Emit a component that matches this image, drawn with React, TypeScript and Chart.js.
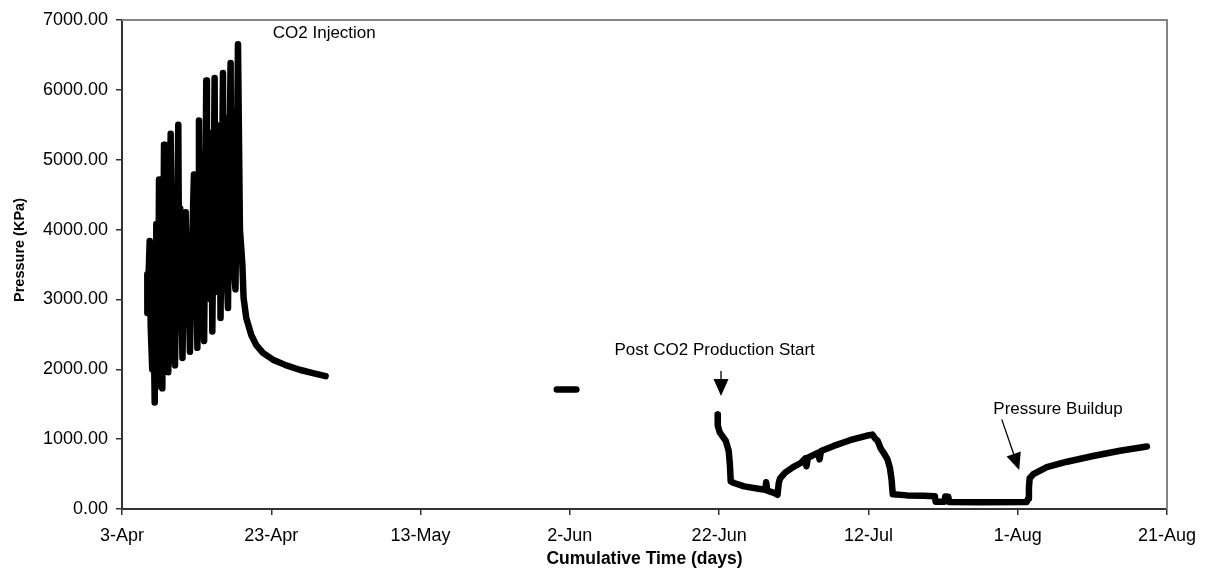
import React, { useEffect, useRef } from "react";
import { Chart, registerables } from "chart.js";

Chart.register(...registerables);

// x values are days since 3-Apr
const tickLabels = ["3-Apr", "23-Apr", "13-May", "2-Jun", "22-Jun", "12-Jul", "1-Aug", "21-Aug"];

const injectionSeries: [number, number][] = [
  [3.39, 3362], [3.4, 2806], [3.55, 3300], [3.71, 3836], [3.85, 2600], [4.05, 2000],
  [4.2, 3000], [4.38, 1524], [4.5, 2800], [4.6, 4078], [4.7, 2500], [4.8, 1760],
  [4.88, 3200], [4.96, 4717], [5.1, 2600], [5.2, 3500], [5.4, 1727], [5.5, 3000],
  [5.63, 5215], [5.75, 3000], [5.9, 3800], [6.2, 1959], [6.35, 3600], [6.52, 5370],
  [6.65, 3200], [6.8, 4200], [6.95, 2400], [7.1, 2056], [7.3, 3500], [7.54, 5500],
  [7.65, 3300], [7.8, 4300], [8.1, 2162], [8.3, 3400], [8.53, 4248], [8.65, 3000],
  [8.85, 3900], [9.1, 2250], [9.35, 3600], [9.64, 4789], [9.75, 2900], [9.9, 4200],
  [10.1, 2307], [10.2, 4000], [10.31, 5563], [10.42, 3300], [10.55, 5100], [10.68, 3000],
  [10.8, 4800], [10.9, 2700], [11.0, 2404], [11.15, 4200], [11.29, 6134], [11.38, 3500],
  [11.5, 5400], [11.62, 3200], [11.75, 5200], [11.88, 3000], [11.97, 4700], [12.1, 2540],
  [12.25, 4200], [12.41, 6168], [12.5, 3600], [12.62, 5500], [12.74, 3300], [12.86, 5300],
  [12.98, 3100], [13.08, 4900], [13.2, 2733], [13.35, 4300], [13.53, 6241], [13.62, 3700],
  [13.74, 5600], [13.86, 3400], [13.97, 5400], [14.08, 3200], [14.2, 2878], [14.35, 4500],
  [14.55, 6386], [14.64, 3800], [14.76, 5700], [14.88, 3500], [14.99, 5400], [15.1, 3300],
  [15.2, 3144], [15.35, 4600], [15.54, 6652], [15.65, 5500], [15.8, 4000], [16.12, 3508],
  [16.29, 3023], [16.65, 2733], [17.32, 2491], [17.99, 2346], [18.88, 2235], [20.22, 2138],
  [22.01, 2056], [23.79, 1993], [25.58, 1945], [27.28, 1901],
];

const shutInSeries: [number, number][] = [
  [58.25, 1710], [60.87, 1710],
];

const productionSeries: [number, number][] = [
  [79.8, 1352], [79.82, 1193], [80.08, 1096], [80.89, 976], [81.28, 831], [81.44, 638],
  [81.55, 396], [81.99, 372], [83.35, 324], [85.26, 290], [86.19, 275], [86.3, 382],
  [86.45, 262], [87.44, 227], [87.82, 203], [87.99, 372], [88.15, 435], [88.8, 517],
  [89.9, 599], [90.99, 662], [91.53, 725], [91.7, 613], [91.9, 734], [93.28, 807],
  [93.45, 710], [93.65, 831], [95.35, 903], [97.53, 985], [99.72, 1048], [100.53, 1065],
  [100.7, 1040], [100.85, 1014], [101.24, 976], [101.63, 869], [102.17, 782], [102.55, 710],
  [102.88, 589], [103.1, 420], [103.26, 210], [105.17, 195], [107.35, 188], [108.9, 182],
  [109.0, 105], [110.2, 105], [110.3, 180], [110.7, 175], [110.8, 100], [115.0, 98],
  [121.2, 100], [121.4, 150], [121.5, 300], [121.6, 440], [122.1, 500], [123.9, 600],
  [126.6, 677], [130.1, 758], [133.7, 834], [137.3, 895],
];

const annotationTexts = ["CO2 Injection", "Post CO2 Production Start", "Pressure Buildup"];
const annotationAnchors: [number, number][] = [[20.2, 6810], [79.4, 2275], [125.4, 1431]];
const annotationAligns = ["left", "center", "center"];
const arrowStarts: [number, number][] = [[80.25, 1974], [117.86, 1283]];
const arrowTips: [number, number][] = [[80.25, 1617], [120.2, 558]];

const FONT = "'Liberation Sans', Arial, Helvetica, sans-serif";

const toXY = (s: [number, number][]) => s.map(([x, y]) => ({ x, y }));

const decorPlugin = {
  id: "decor",
  afterDraw(chart: any) {
    const { ctx, chartArea, scales } = chart;
    const xs = scales.x;
    const ys = scales.y;
    ctx.save();
    // gray top & right frame
    ctx.strokeStyle = "#858585";
    ctx.lineWidth = 2;
    ctx.beginPath();
    ctx.moveTo(chartArea.left, chartArea.top);
    ctx.lineTo(chartArea.right, chartArea.top);
    ctx.lineTo(chartArea.right, chartArea.bottom);
    ctx.stroke();

    // annotations
    ctx.fillStyle = "#000";
    ctx.font = `17px ${FONT}`;
    ctx.textBaseline = "middle";
    annotationTexts.forEach((t, i) => {
      ctx.textAlign = annotationAligns[i] as CanvasTextAlign;
      ctx.fillText(t, xs.getPixelForValue(annotationAnchors[i][0]), ys.getPixelForValue(annotationAnchors[i][1]));
    });

    // arrows
    arrowStarts.forEach((s, i) => {
      const x0 = xs.getPixelForValue(s[0]);
      const y0 = ys.getPixelForValue(s[1]);
      const x1 = xs.getPixelForValue(arrowTips[i][0]);
      const y1 = ys.getPixelForValue(arrowTips[i][1]);
      const ang = Math.atan2(y1 - y0, x1 - x0);
      const hl = 17;
      const hw = 7.5;
      const bx = x1 - hl * Math.cos(ang);
      const by = y1 - hl * Math.sin(ang);
      ctx.strokeStyle = "#000";
      ctx.lineWidth = 1.3;
      ctx.beginPath();
      ctx.moveTo(x0, y0);
      ctx.lineTo(bx, by);
      ctx.stroke();
      ctx.beginPath();
      ctx.moveTo(x1, y1);
      ctx.lineTo(bx + hw * Math.sin(ang), by - hw * Math.cos(ang));
      ctx.lineTo(bx - hw * Math.sin(ang), by + hw * Math.cos(ang));
      ctx.closePath();
      ctx.fill();
    });

    // y axis title
    ctx.save();
    ctx.translate(20, 250);
    ctx.rotate(-Math.PI / 2);
    ctx.font = `bold 14.5px ${FONT}`;
    ctx.textAlign = "center";
    ctx.textBaseline = "middle";
    ctx.fillText("Pressure (KPa)", 0, 0);
    ctx.restore();
    ctx.restore();
  },
};

const lineStyle = {
  borderColor: "#000",
  backgroundColor: "#000",
  borderWidth: 6.5,
  pointRadius: 0,
  tension: 0,
  borderJoinStyle: "round" as const,
  borderCapStyle: "round" as const,
  fill: false,
};

export default function App() {
  const ref = useRef<HTMLCanvasElement>(null);
  useEffect(() => {
    if (!ref.current) return;
    const chart = new Chart(ref.current, {
      type: "line",
      data: {
        datasets: [
          { ...lineStyle, data: toXY(injectionSeries) },
          { ...lineStyle, data: toXY(shutInSeries) },
          { ...lineStyle, data: toXY(productionSeries) },
        ],
      },
      options: {
        animation: false,
        responsive: false,
        devicePixelRatio: 1,
        layout: { padding: { left: 0, top: 20, right: 45, bottom: 0 } },
        plugins: { legend: { display: false }, tooltip: { enabled: false } },
        scales: {
          x: {
            type: "linear",
            min: 0,
            max: 140,
            afterFit: (s: any) => { s.height = 76; },
            ticks: {
              stepSize: 20,
              autoSkip: false,
              maxRotation: 0,
              padding: 10,
              color: "#000",
              font: { family: FONT, size: 18 },
              callback: (v: any) => tickLabels[Math.round(Number(v) / 20)] ?? "",
            },
            grid: { drawOnChartArea: false, tickLength: 6, color: "#333", lineWidth: 1.5 },
            border: { display: true, color: "#333", width: 2 },
            title: {
              display: true,
              text: "Cumulative Time (days)",
              color: "#000",
              font: { family: FONT, size: 17.5, weight: "bold" },
              padding: { top: 0, bottom: 15 },
            },
          },
          y: {
            type: "linear",
            min: 0,
            max: 7000,
            afterFit: (s: any) => { s.width = 122; },
            ticks: {
              stepSize: 1000,
              padding: 8,
              color: "#000",
              font: { family: FONT, size: 18 },
              callback: (v: any) => Number(v).toFixed(2),
            },
            grid: { drawOnChartArea: false, tickLength: 6, color: "#333", lineWidth: 1.5 },
            border: { display: true, color: "#333", width: 2 },
          },
        },
      },
      plugins: [decorPlugin],
    });
    return () => chart.destroy();
  }, []);
  return (
    <div style={{ position: "absolute", left: 0, top: 0, width: 1212, height: 585, background: "#fff" }}>
      <canvas ref={ref} width={1212} height={585} />
    </div>
  );
}
